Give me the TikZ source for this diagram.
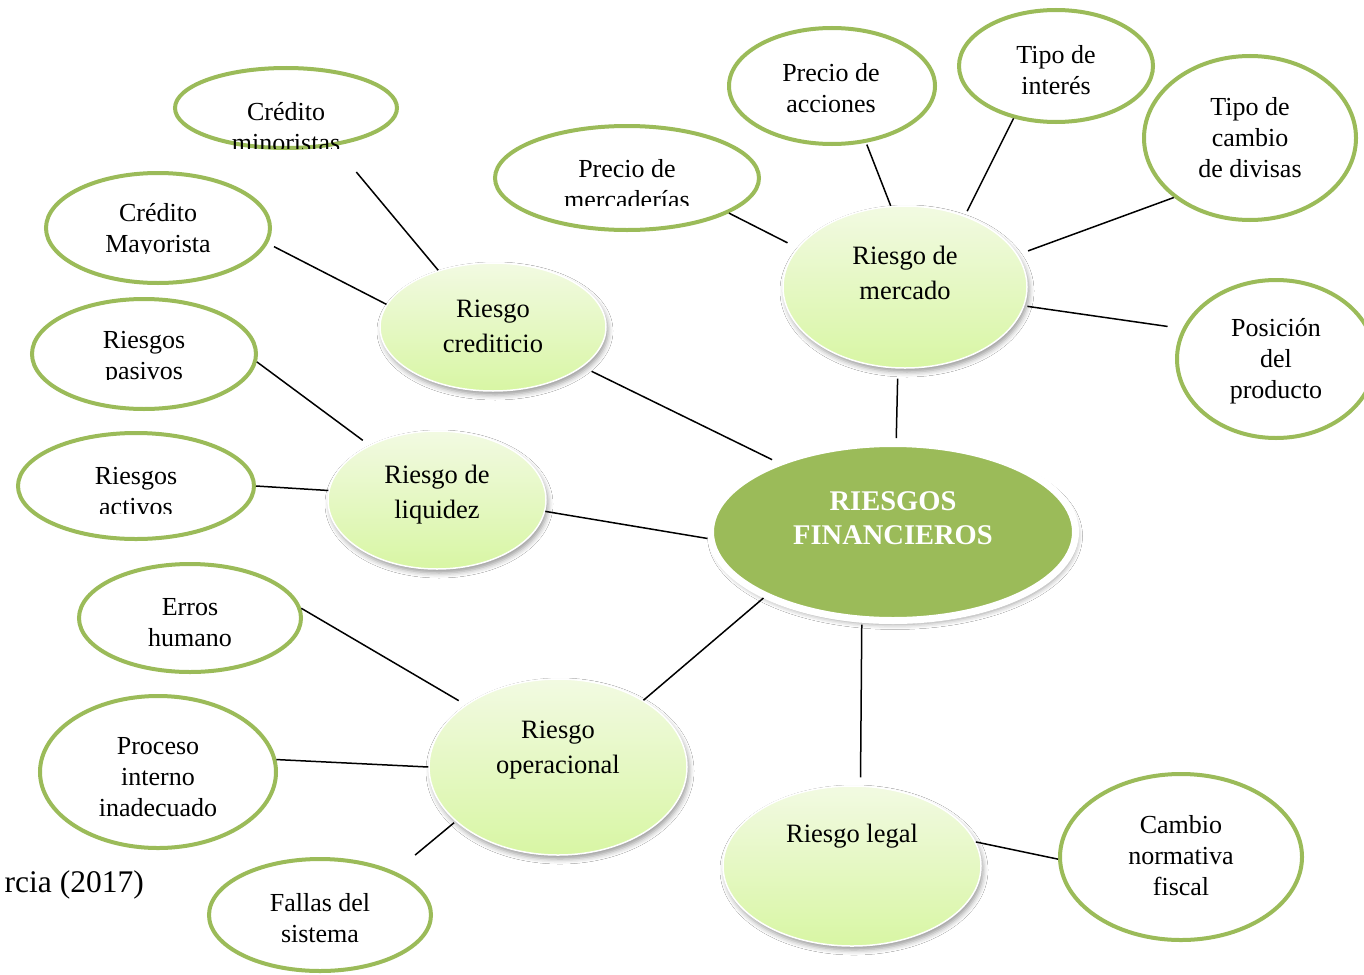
\documentclass[tikz,border=0pt]{standalone}
\usepackage{fontspec}
\setmainfont{Liberation Serif}
\usetikzlibrary{shapes.geometric,shadows.blur}
\definecolor{lgreen}{HTML}{9BBB59}
\definecolor{mtop}{HTML}{F2FAE2}
\definecolor{mbot}{HTML}{D8F6A4}
\begin{document}
\begin{tikzpicture}[x=1pt,y=-1pt,
  leaf/.style={ellipse,draw=lgreen,line width=4pt,fill=white,inner sep=0pt},
  mid/.style={ellipse,draw=white,line width=1.5pt,top color=mtop,bottom color=mbot,inner sep=0pt,
    blur shadow={shadow xshift=2pt,shadow yshift=-4pt,shadow blur radius=5pt,shadow opacity=40}},
  core/.style={ellipse,draw=white,line width=7pt,fill=lgreen,inner sep=0pt,
    blur shadow={shadow xshift=2pt,shadow yshift=-4pt,shadow blur radius=5pt,shadow opacity=40}},
  ltxt/.style={font=\fontsize{26}{31}\selectfont,align=center,inner sep=0pt},
  mtxt/.style={font=\fontsize{26.5}{35}\selectfont,align=center,inner sep=0pt},
  ctxt/.style={font=\fontsize{28.5}{34}\selectfont\bfseries,text=white,align=center,inner sep=0pt},
  conn/.style={draw=black,line width=1.5pt}]
\useasboundingbox (0,0) rectangle (1364,974);
\clip (0,0) rectangle (1364,974);
\fill[white] (0,0) rectangle (1364,974);

% leaf nodes
\node[leaf,minimum width=222pt,minimum height=80pt]  (cm) at (286,108) {};
\node[leaf,minimum width=224pt,minimum height=110pt] (cM) at (158,228) {};
\node[leaf,minimum width=224pt,minimum height=110pt] (rp) at (144,354) {};
\node[leaf,minimum width=236pt,minimum height=106pt] (ra) at (136,486) {};
\node[leaf,minimum width=222pt,minimum height=108pt] (eh) at (190,618) {};
\node[leaf,minimum width=236pt,minimum height=152pt] (pi) at (158,772) {};
\node[leaf,minimum width=222pt,minimum height=112pt] (fs) at (320,915) {};
\node[leaf,minimum width=264pt,minimum height=104pt] (pm) at (627,178) {};
\node[leaf,minimum width=206pt,minimum height=116pt] (pa) at (832,86) {};
\node[leaf,minimum width=194pt,minimum height=112pt] (ti) at (1056,66) {};
\node[leaf,minimum width=212pt,minimum height=164pt] (tc) at (1250,138) {};
\node[leaf,minimum width=198pt,minimum height=158pt] (pp) at (1276,359) {};
\node[leaf,minimum width=242pt,minimum height=166pt] (cn) at (1181,857) {};

% middle nodes
\node[mid,minimum width=226pt,minimum height=128pt] (rc) at (493,327) {};
\node[mid,minimum width=218pt,minimum height=138pt] (rl) at (437,500) {};
\node[mid,minimum width=258pt,minimum height=176pt] (ro) at (558,767) {};
\node[mid,minimum width=258pt,minimum height=160pt] (rg) at (852,866) {};
\node[mid,minimum width=244pt,minimum height=162pt] (rm) at (905,287) {};

% core
\node[core,minimum width=365pt,minimum height=177pt] (rf) at (893,532) {};

% texts (some are cut at the bottom, as in the original)
\begin{scope}
  \clip (180,60) rectangle (400,148);
  \node[ltxt] (t-cm) at (286,127) {Crédito\\minoristas};
\end{scope}
\begin{scope}
  \clip (50,180) rectangle (270,253);
  \node[ltxt] (t-cM) at (158,231) {Crédito\\Mayorista};
\end{scope}
\begin{scope}
  \clip (40,300) rectangle (250,379);
  \node[ltxt] (t-rp) at (144,358) {Riesgos\\pasivos};
\end{scope}
\begin{scope}
  \clip (30,440) rectangle (250,513);
  \node[ltxt] (t-ra) at (136,492) {Riesgos\\activos};
\end{scope}
\begin{scope}
  \clip (500,130) rectangle (760,205);
  \node[ltxt] (t-pm) at (627,184) {Precio de\\mercaderías};
\end{scope}
\node[ltxt] (t-eh) at (190,623) {Erros\\humano};
\node[ltxt] (t-pi) at (158,777) {Proceso\\interno\\inadecuado};
\node[ltxt] (t-fs) at (320,918) {Fallas del\\sistema};
\node[ltxt] (t-pa) at (831,88) {Precio de\\acciones};
\node[ltxt] (t-ti) at (1056,70) {Tipo de\\interés};
\node[ltxt] (t-tc) at (1250,138) {Tipo de\\cambio\\de divisas};
\node[ltxt] (t-pp) at (1276,361) {Posición\\del\\producto};
\node[ltxt] (t-cn) at (1181,856) {Cambio\\normativa\\fiscal};
\node[mtxt] (t-rc) at (493,326) {Riesgo\\crediticio};
\node[mtxt] (t-rl) at (437,495) {Riesgo de\\liquidez};
\node[mtxt] (t-ro) at (558,750) {Riesgo\\operacional};
\node[mtxt] (t-rg) at (852,836) {Riesgo legal};
\node[mtxt] (t-rm) at (905,273) {Riesgo de\\mercado};
\node[ctxt] (t-rf) at (893,518) {RIESGOS\\FINANCIEROS};
\node[font=\fontsize{31.5}{34}\selectfont,inner sep=0pt,anchor=base east] (src) at (144,892) {rcia (2017)};

% connectors
\draw[conn,shorten <=34pt] (cm.-38) -- (rc.134);
\draw[conn,shorten <=7pt] (cM.-8) -- (rc.168);
\draw[conn,shorten >=8pt] (rp.-4) -- (rl.141);
\draw[conn] (ra.0) -- (rl.175);
\draw[conn,shorten <=10pt,shorten >=3pt] (rc.-24) -- (rf.149);
\draw[conn] (rl.-6) -- (rf.-178);
\draw[conn,shorten >=8pt] (eh.5) -- (ro.146);
\draw[conn] (pi.6) -- (ro.180);
\draw[conn,shorten <=26pt,shorten >=2pt] (fs.30) -- (ro.-152);
\draw[conn] (ro.38) -- (rf.-153);
\draw[conn,shorten <=2pt,shorten >=8pt] (rf.-109) -- (rg.84);
\draw[conn] (rg.11) -- (cn.181);
\draw[conn,shorten <=10pt,shorten >=2pt] (rm.-95) -- (rf.88);
\draw[conn,shorten >=11pt] (pm.-19) -- (rm.160);
\draw[conn,shorten <=2pt] (pa.-59) -- (rm.100);
\draw[conn,shorten >=5pt] (ti.-129) -- (rm.50);
\draw[conn,shorten >=11pt] (tc.-142) -- (rm.16);
\draw[conn,shorten <=3pt,shorten >=15pt] (rm.-9) -- (pp.162);
\end{tikzpicture}
\end{document}
